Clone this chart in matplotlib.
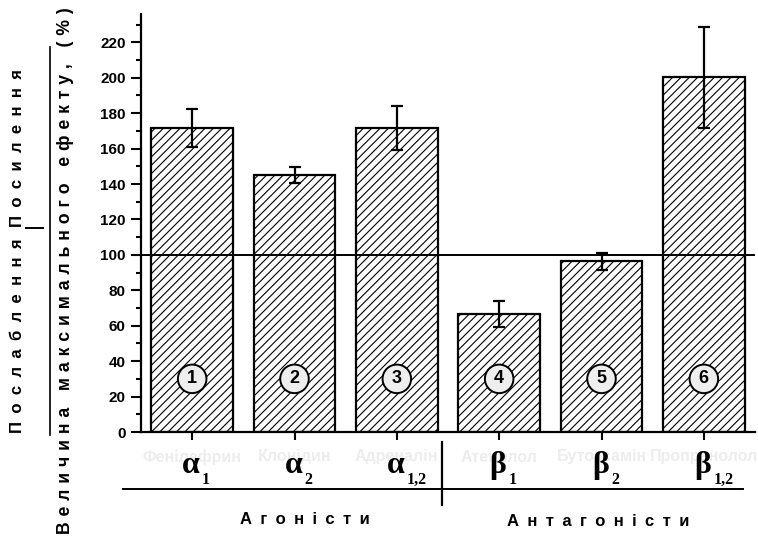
import matplotlib.pyplot as plt
from matplotlib.lines import Line2D
import numpy as np

plt.rcParams['font.family'] = ['Liberation Sans', 'DejaVu Sans']
plt.rcParams['font.weight'] = 'bold'
plt.rcParams['hatch.linewidth'] = 0.8

# дані
positions = [1, 2, 3, 4, 5, 6]
values = [171.5, 145, 171.5, 66.6, 96.4, 200.2]
errors = [10.7, 4.5, 12.4, 7.3, 4.8, 28.5]
drugs = ['Фенілефрин', 'Клонідин', 'Адреналін', 'Атенолол', 'Бутоксамін', 'Пропранолол']
greek = ['α', 'α', 'α', 'β', 'β', 'β']
subs = ['1', '2', '1,2', '1', '2', '1,2']
numbers = ['1', '2', '3', '4', '5', '6']
groups = ['Агоністи', 'Антагоністи']


def spaced(s, sep='\u2002'):
    return sep.join(s)


fig = plt.figure(figsize=(7.58, 5.38), dpi=100)
ax = fig.add_axes([141 / 758, 1 - 432 / 538, 614 / 758, 418 / 538])

ax.bar(positions, values, width=0.8, color='white', edgecolor='black',
       linewidth=1.6, hatch='////', zorder=2)
ax.errorbar(positions, values, yerr=errors, fmt='none', ecolor='black',
            elinewidth=1.6, capsize=4, capthick=1.6, zorder=4)
ax.axhline(100, color='black', lw=1.4, zorder=3)

for x, n in zip(positions, numbers):
    ax.text(x, 30, n, ha='center', va='center', fontsize=13, fontweight='bold',
            zorder=5,
            bbox=dict(boxstyle='circle,pad=0.32', fc='#eeeeee', ec='black', lw=1.4))

ax.set_xlim(0.5, 6.5)
ax.set_ylim(0, 236)
ax.set_yticks(np.arange(0, 221, 20))
ax.set_yticks(np.arange(10, 236, 10), minor=True)
ax.set_xticks(positions)
ax.set_xticklabels([])
ax.set_xticks(np.arange(0.5, 7, 1), minor=True)
ax.tick_params(axis='y', which='major', length=7, width=1.5, labelsize=11, pad=4)
ax.tick_params(axis='y', which='minor', length=3.5, width=1.5)
ax.tick_params(axis='x', which='major', length=6, width=1.5)
ax.tick_params(axis='x', which='minor', length=2, width=1.5, direction='inout')
for lab in ax.get_yticklabels():
    lab.set_fontweight('bold')

for s in ['top', 'right']:
    ax.spines[s].set_visible(False)
for s in ['left', 'bottom']:
    ax.spines[s].set_linewidth(1.6)

# підписи під віссю
for x, d, g, sb in zip(positions, drugs, greek, subs):
    ax.annotate(d, xy=(x, 0), xycoords=('data', 'axes fraction'),
                xytext=(0, -25), textcoords='offset pixels', ha='center',
                va='center', fontsize=11.5, fontweight='bold', color='#ededed',
                annotation_clip=False)
    ax.annotate(g, xy=(x, 0), xycoords=('data', 'axes fraction'),
                xytext=(-1, -41), textcoords='offset pixels', ha='center',
                va='baseline', fontsize=23, family='Liberation Serif',
                fontweight='bold', annotation_clip=False)
    ax.annotate(sb, xy=(x, 0), xycoords=('data', 'axes fraction'),
                xytext=(10, -52), textcoords='offset pixels', ha='left',
                va='baseline', fontsize=11.5, family='Liberation Serif',
                fontweight='bold', annotation_clip=False)

fig.add_artist(Line2D([123 / 758, 743 / 758], [1 - 489 / 538] * 2,
                      color='black', lw=1.4))
fig.add_artist(Line2D([442 / 758] * 2, [1 - 442 / 538, 1 - 505 / 538],
                      color='black', lw=1.6))
fig.text(305 / 758, 1 - 519 / 538, spaced(groups[0]), ha='center', va='center',
         fontsize=12, fontweight='bold')
fig.text(598 / 758, 1 - 521 / 538, spaced(groups[1]), ha='center', va='center',
         fontsize=12, fontweight='bold')

# підпис осі y
fig.text(18 / 758, 1 - 336 / 538, spaced('Послаблення'), rotation=90,
         ha='center', va='center', fontsize=12, fontweight='bold')
fig.text(18 / 758, 1 - 148 / 538, spaced('Посилення'), rotation=90,
         ha='center', va='center', fontsize=12, fontweight='bold')
fig.add_artist(Line2D([26 / 758, 43 / 758], [1 - 228 / 538] * 2,
                      color='black', lw=1.4))
fig.add_artist(Line2D([50 / 758] * 2, [1 - 47 / 538, 1 - 435 / 538],
                      color='black', lw=1.2))
gap = '\u2004 \u2004'
label2 = gap.join(spaced(w, '\u2004') for w in ['Величина', 'максимального', 'ефекту,', '(%)'])
fig.text(66 / 758, 1 - 271 / 538, label2, rotation=90, ha='center', va='center',
         fontsize=12.7, fontweight='bold')

fig.savefig('out.png', dpi=100)
